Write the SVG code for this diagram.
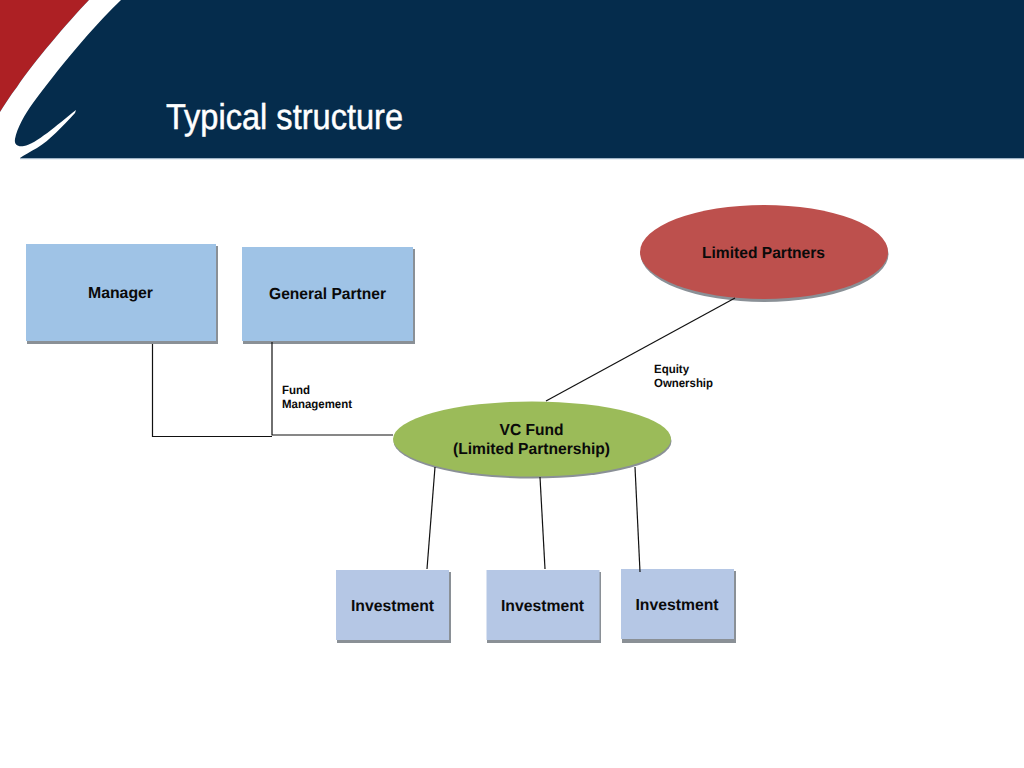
<svg xmlns="http://www.w3.org/2000/svg" width="1024" height="768" viewBox="0 0 1024 768">
<defs><style>
text{font-family:"Liberation Sans",Arial,sans-serif;font-weight:bold;fill:#0a0a0a;text-rendering:geometricPrecision}
.l{font-size:16px;text-anchor:middle}
.s{font-size:12px}
.t{font-family:"Liberation Sans Narrow","Liberation Sans",sans-serif;font-weight:normal;font-size:36px;fill:#fff;stroke:#fff;stroke-width:.5}
.c{fill:none;stroke:#111;stroke-width:1.2}
.sh{fill:#8a9096}
.blue{fill:#9fc3e6}
.inv{fill:#b5c7e5}
.grn{fill:#9bbb59}
.red{fill:#bd504d}
</style></defs>
<rect width="1024" height="768" fill="#fff"/>
<g id="banner">
<rect width="1024" height="158" fill="#052c4c"/>
<rect x="20" y="158" width="1004" height="1.200" fill="#9fb4c6"/>
<path d="M0 0H89C67 23 33 63 17 87C10 96 5 104 0 112Z" fill="#ad2024"/>
<path d="M89 0H121C100 20 67 57 33 103C25 114 17 128 15 139C14 145 18 147 24 146C36 144 57 125 76 110L75 113C62 127 50 140 37 148C30 152 24 155 20 158H0V112C5 104 10 96 17 87C33 63 67 23 89 0Z" fill="#fff"/>
<text class="t" x="166" y="129" textLength="237" lengthAdjust="spacingAndGlyphs">Typical structure</text>
</g>
<g id="manager"><rect class="sh" x="27" y="246" width="191" height="98"/><rect class="blue" x="26" y="244" width="190" height="97"/><text class="l" x="120.500" y="298" textLength="65" lengthAdjust="spacingAndGlyphs">Manager</text></g>
<g id="general-partner"><rect class="sh" x="243" y="249" width="172" height="95"/><rect class="blue" x="242" y="247" width="171" height="94"/><text class="l" x="327.500" y="299" textLength="117" lengthAdjust="spacingAndGlyphs">General Partner</text></g>
<g id="limited-partners"><ellipse class="sh" cx="764.500" cy="254" rx="124" ry="48"/><ellipse class="red" cx="764" cy="252" rx="124" ry="47"/><text class="l" x="763.500" y="257.500" textLength="123" lengthAdjust="spacingAndGlyphs">Limited Partners</text></g>
<g id="vc-fund"><ellipse class="sh" cx="532.500" cy="441" rx="139" ry="37.500"/><ellipse class="grn" cx="532" cy="439" rx="139" ry="37.500"/><text class="l" x="531.500" y="435" textLength="64" lengthAdjust="spacingAndGlyphs">VC Fund</text><text class="l" x="531.500" y="454" textLength="157" lengthAdjust="spacingAndGlyphs">(Limited Partnership)</text></g>
<g id="investment-1"><rect class="sh" x="337" y="572" width="114" height="71"/><rect class="inv" x="336" y="570" width="113" height="70"/><text class="l" x="392.500" y="610.500" textLength="83" lengthAdjust="spacingAndGlyphs">Investment</text></g>
<g id="investment-2"><rect class="sh" x="487" y="572" width="114" height="71"/><rect class="inv" x="486.500" y="570" width="113" height="70"/><text class="l" x="542.500" y="610.500" textLength="83" lengthAdjust="spacingAndGlyphs">Investment</text></g>
<g id="investment-3"><rect class="sh" x="622" y="571" width="114" height="72"/><rect class="inv" x="621" y="569" width="113" height="70"/><text class="l" x="677" y="610" textLength="83" lengthAdjust="spacingAndGlyphs">Investment</text></g>
<g id="label-equity"><text class="s" x="654" y="373" textLength="35" lengthAdjust="spacingAndGlyphs">Equity</text><text class="s" x="654" y="387" textLength="59" lengthAdjust="spacingAndGlyphs">Ownership</text></g>
<g id="label-fund"><text class="s" x="282" y="394" textLength="28" lengthAdjust="spacingAndGlyphs">Fund</text><text class="s" x="282" y="408" textLength="70" lengthAdjust="spacingAndGlyphs">Management</text></g>
<g id="connectors">
<path class="c" d="M152.500 344V436.500H272"/>
<path class="c" d="M272 342V435H393"/>
<path class="c" d="M735 298L546 401"/>
<path class="c" d="M435 467L427 569"/>
<path class="c" d="M540 477L545 569"/>
<path class="c" d="M635 467L640 572"/>
</g>
</svg>
